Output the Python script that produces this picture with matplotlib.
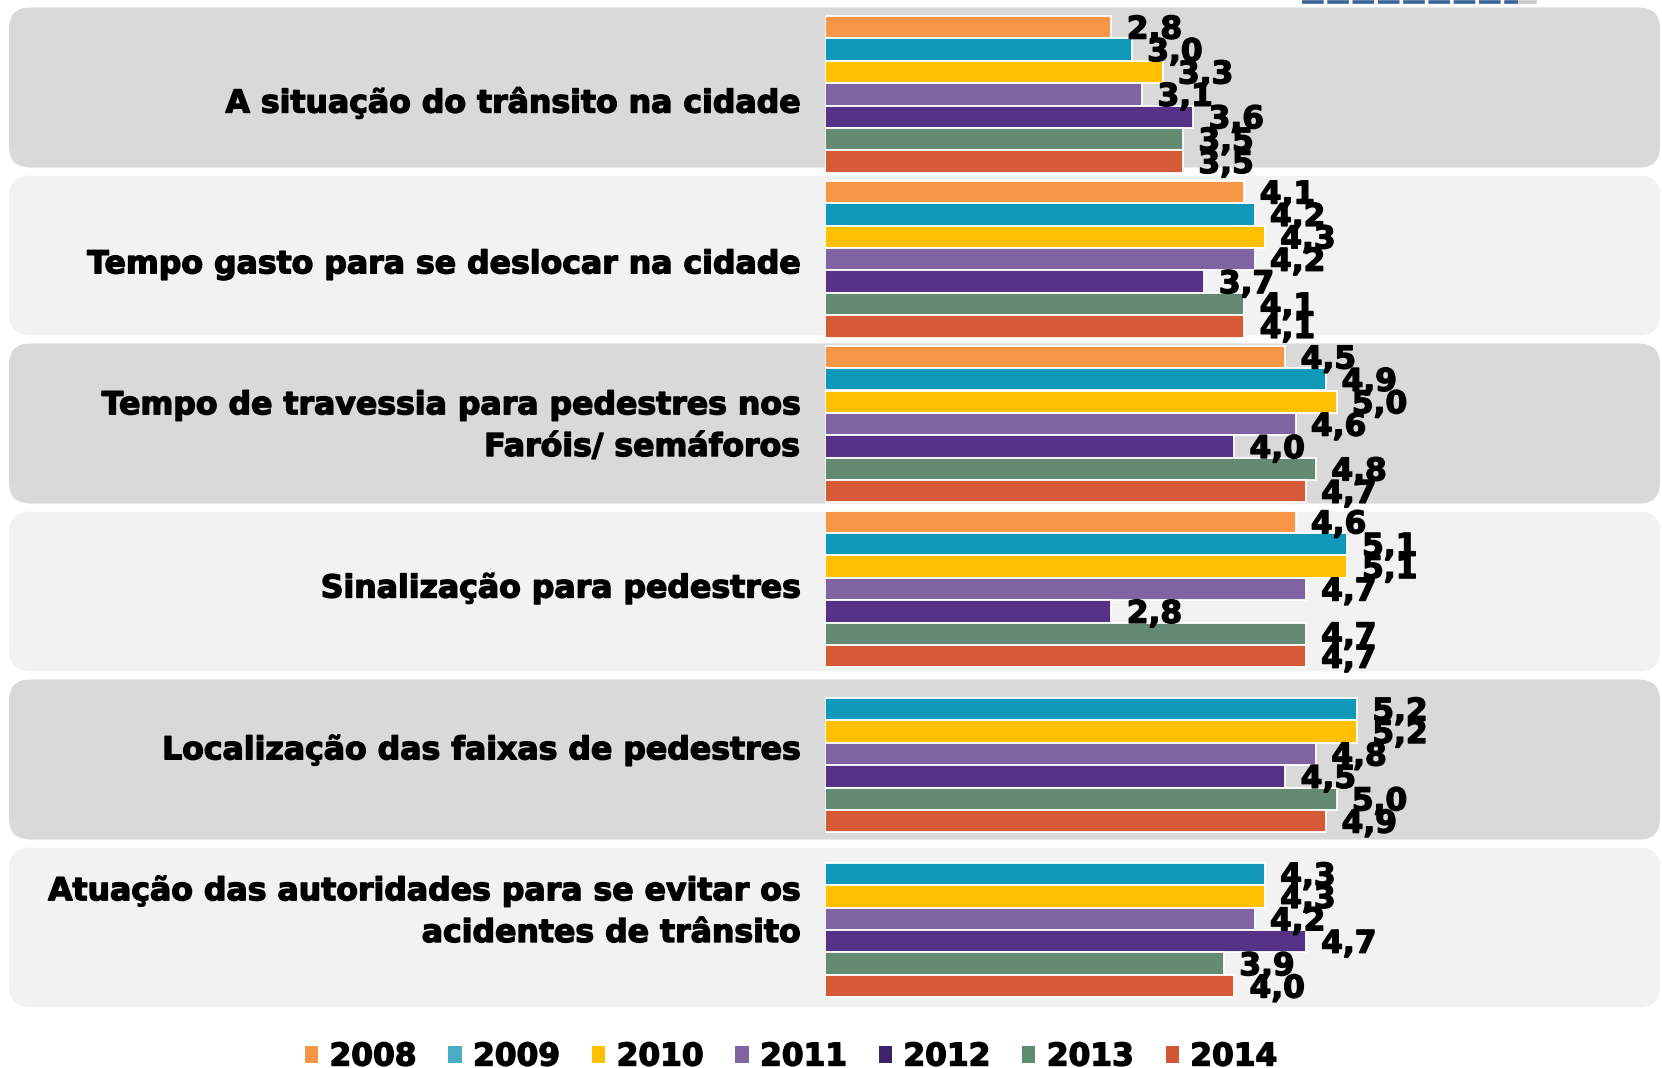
import matplotlib
matplotlib.use('Agg')
import matplotlib.pyplot as plt
import matplotlib.patheffects as pe
from matplotlib.patches import FancyBboxPatch, Patch
import numpy as np

plt.rcParams['font.family'] = ['DejaVu Sans']

categories = [
  'A situação do trânsito na cidade',
  'Tempo gasto para se deslocar na cidade',
  'Tempo de travessia para pedestres nos\nFaróis/ semáforos',
  'Sinalização para pedestres',
  'Localização das faixas de pedestres',
  'Atuação das autoridades para se evitar os\nacidentes de trânsito',
]
years = ['2008', '2009', '2010', '2011', '2012', '2013', '2014']

# one list per year, in category order (nan = no data that year)
v2008 = [2.8, 4.1, 4.5, 4.6, np.nan, np.nan]
v2009 = [3.0, 4.2, 4.9, 5.1, 5.2, 4.3]
v2010 = [3.3, 4.3, 5.0, 5.1, 5.2, 4.3]
v2011 = [3.1, 4.2, 4.6, 4.7, 4.8, 4.2]
v2012 = [3.6, 3.7, 4.0, 2.8, 4.5, 4.7]
v2013 = [3.5, 4.1, 4.8, 4.7, 5.0, 3.9]
v2014 = [3.5, 4.1, 4.7, 4.7, 4.9, 4.0]
series = [v2008, v2009, v2010, v2011, v2012, v2013, v2014]

bar_colors = ['#F79646', '#0F98B8', '#FFC000', '#8064A2', '#553285', '#658A73', '#D65A37']
legend_colors = ['#F79646', '#4BACC6', '#FFC000', '#8064A2', '#3F2368', '#5E8C6F', '#D35535']
panel_colors = ['#D9D9D9', '#F2F2F2']

W, H = 1662, 1068
x0 = 825        # pixel where the bars start
px_per_unit = 102.3
slot = 22.4     # height of one bar in px
group_step = 164.9
group_top0 = 15.9
fs = 22.5
heavy = [pe.withStroke(linewidth=1.0, foreground='black')]

fig = plt.figure(figsize=(W / 100, H / 100), dpi=100)
fig.patch.set_facecolor('white')

# background axes in pixel coordinates
bg = fig.add_axes([0, 0, 1, 1])
bg.set_xlim(0, W)
bg.set_ylim(H, 0)
bg.axis('off')

for i in range(len(categories)):
  top = 7.5 + i * 168
  box = FancyBboxPatch((9, top), 1651, 160,
                       boxstyle='round,pad=0,rounding_size=21',
                       facecolor=panel_colors[i % 2], edgecolor='none')
  bg.add_patch(box)

  bg.text(800, 103 + i * 161.8, categories[i], ha='right', va='center',
          fontsize=22.7, fontweight='bold', linespacing=1.45, color='black',
          path_effects=heavy)

# bit of the logo that sticks in at the top
bg.plot([1302, 1518], [1.5, 1.5], color='#3A6397', lw=2.6, dashes=(6, 1),
        solid_capstyle='butt')
bg.plot([1520, 1535], [1.5, 1.5], color='#C8C8C8', lw=2.6)

# bar axes
ax = fig.add_axes([x0 / W, 0, 1 - x0 / W, 1])
ax.set_xlim(0, (W - x0) / px_per_unit)
ax.set_ylim(H, 0)
ax.axis('off')
ax.patch.set_alpha(0)

group_tops = group_top0 + np.arange(len(categories)) * group_step
for si, vals in enumerate(series):
  vals = np.array(vals, dtype=float)
  ok = ~np.isnan(vals)
  centers = group_tops + si * slot + slot / 2
  ax.barh(centers[ok], vals[ok], height=slot, color=bar_colors[si],
          edgecolor='white', linewidth=1.3)
  for c, v in zip(centers[ok], vals[ok]):
    ax.text(v + 0.15, c + 11.5, f'{v:.1f}'.replace('.', ','),
            fontsize=fs, fontweight='bold', va='baseline', ha='left', color='black',
            path_effects=heavy)

handles = [Patch(facecolor=c, edgecolor='none') for c in legend_colors]
leg = fig.legend(handles, years, loc='center', bbox_to_anchor=(791 / W, 11 / H),
                 ncol=7, frameon=False, prop={'size': fs, 'weight': 'bold'},
                 handlelength=0.42, handleheight=0.48, handletextpad=0.37,
                 columnspacing=1.02, borderaxespad=0, borderpad=0)
for t in leg.get_texts():
  t.set_path_effects(heavy)

fig.savefig('out.png', dpi=100)
